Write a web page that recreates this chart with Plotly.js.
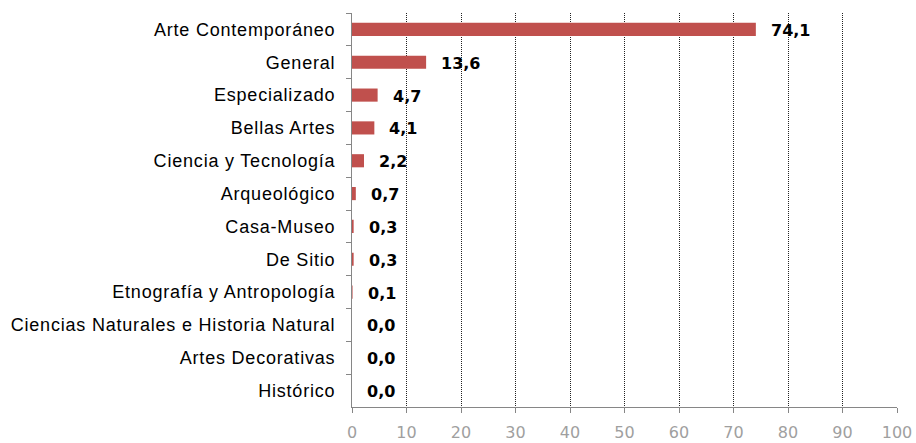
<!DOCTYPE html>
<html><head><meta charset="utf-8">
<script src="https://cdn.plot.ly/plotly-3.0.1.min.js"></script>
<style>body{margin:0}#c{width:916px;height:443px}
.ytick text{letter-spacing:0.8px}</style>
</head><body><div id="c"></div>
<script>
const categories = ["Arte Contemporáneo","General","Especializado","Bellas Artes","Ciencia y Tecnología","Arqueológico","Casa-Museo","De Sitio","Etnografía y Antropología","Ciencias Naturales e Historia Natural","Artes Decorativas","Histórico"];
const values = [74.1,13.6,4.7,4.1,2.2,0.7,0.3,0.3,0.1,0.0,0.0,0.0];
const tickVals = [0,10,20,30,40,50,60,70,80,90,100];

const labels = values.map(v => v.toFixed(1).replace('.', ','));

const trace = {
  type: 'bar', orientation: 'h',
  x: values, y: categories,
  marker: {color: '#c0504d', line: {width: 0}},
  hoverinfo: 'none'
};
const annotations = values.map((v, i) => ({
  x: v, y: categories[i], xref: 'x', yref: 'y',
  text: labels[i], showarrow: false, xanchor: 'left', xshift: 13, yshift: -1,
  font: {family: 'DejaVu Sans', size: 16, color: '#000', weight: 'bold'}
}));
const layout = {
  width: 916, height: 443,
  margin: {l: 352, r: 19, t: 13, b: 36},
  paper_bgcolor: '#fff', plot_bgcolor: '#fff',
  showlegend: false,
  bargap: 0.6,
  xaxis: {
    range: [0, 100], tickvals: tickVals, ticktext: tickVals.map(String),
    showgrid: true, gridcolor: '#222', griddash: '1px,1px', gridwidth: 1,
    zeroline: false, showline: true, linecolor: '#868686', linewidth: 1,
    ticks: 'outside', ticklen: 5, tickcolor: '#868686',
    tickfont: {family: 'DejaVu Sans', size: 16, color: '#9f9f9f'},
    ticklabelstandoff: 6, fixedrange: true
  },
  yaxis: {
    type: 'category', autorange: 'reversed',
    showgrid: false, zeroline: false,
    showline: true, linecolor: '#868686', linewidth: 1,
    ticks: 'outside', ticklen: 5, tickcolor: '#868686', tickson: 'boundaries',
    tickfont: {family: 'Liberation Sans', size: 18, color: '#000'},
    ticklabelstandoff: 12, fixedrange: true
  },
  annotations: annotations
};
Plotly.newPlot('c', [trace], layout, {displayModeBar: false, staticPlot: true});
</script></body></html>
